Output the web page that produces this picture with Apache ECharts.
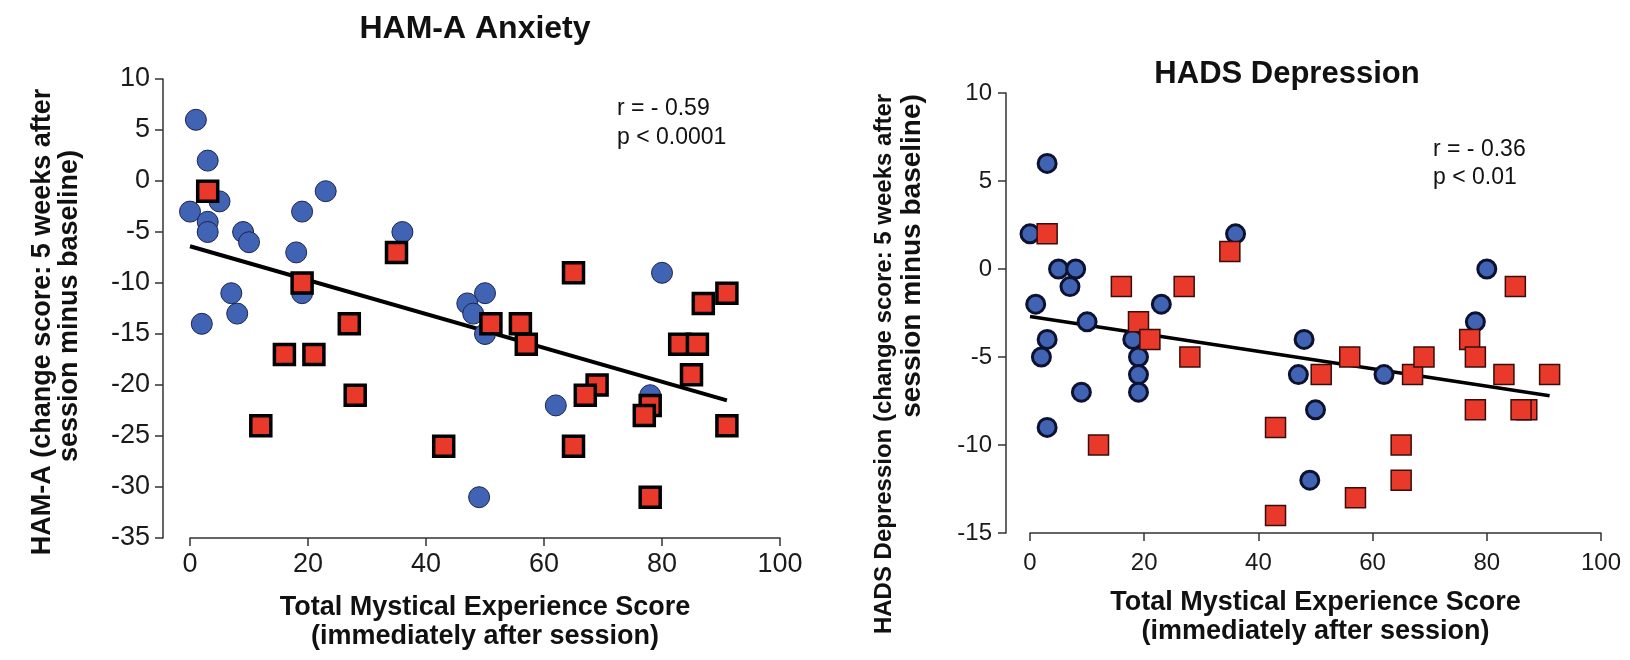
<!DOCTYPE html>
<html>
<head>
<meta charset="utf-8">
<script src="https://cdn.jsdelivr.net/npm/echarts@6/dist/echarts.min.js"></script>
<style>
html,body{margin:0;padding:0;background:#fff;}
#chart{width:1630px;height:660px;}
</style>
</head>
<body>
<div id="chart"></div>
<script>
// ---------- data ----------
const xTicksMin = 0, xTicksMax = 100, xTickStep = 20;

// HAM-A panel
const hamaCircleX = [1, 3, 5, 0, 3, 3, 9, 10, 23, 19, 18, 19, 7, 8, 2, 36, 80, 50, 47, 48, 50, 62, 78, 49];
const hamaCircleY = [6, 2, -2, -3, -4, -5, -5, -6, -1, -3, -7, -11, -11, -13, -14, -5, -9, -11, -12, -13, -15, -22, -21, -31];
const hamaSquareX = [3, 19, 35, 27, 16, 21, 28, 12, 43, 65, 91, 87, 51, 56, 57, 69, 67, 78, 77, 83, 86, 85, 91, 65, 78];
const hamaSquareY = [-1, -10, -7, -14, -17, -17, -21, -24, -26, -9, -11, -12, -14, -14, -16, -20, -21, -22, -23, -16, -16, -19, -24, -26, -31];
const hamaFitX = [0, 91];
const hamaFitY = [-6.4, -21.5];
const hamaYMin = -35, hamaYMax = 10, hamaYStep = 5;

// HADS panel
const hadsCircleX = [3, 0, 5, 8, 7, 1, 10, 23, 36, 3, 2, 9, 3, 18, 19, 19, 19, 48, 47, 50, 49, 62, 80, 78];
const hadsCircleY = [6, 2, 0, 0, -1, -2, -3, -2, 2, -4, -5, -7, -9, -4, -5, -6, -7, -4, -6, -8, -12, -6, 0, -3];
const hadsSquareX = [3, 16, 27, 19, 21, 35, 12, 28, 51, 56, 67, 69, 43, 65, 65, 57, 43, 77, 78, 83, 91, 78, 87, 86, 85];
const hadsSquareY = [2, -1, -1, -3, -4, 1, -10, -5, -6, -5, -6, -5, -9, -10, -12, -13, -14, -4, -5, -6, -6, -8, -8, -8, -1];
const hadsFitX = [0, 91];
const hadsFitY = [-2.7, -7.2];
const hadsYMin = -15, hadsYMax = 10, hadsYStep = 5;

// texts
const titles = ['HAM-A Anxiety', 'HADS Depression'];
const xName = 'Total Mystical Experience Score\n(immediately after session)';
const hamaYNameLines = ['HAM-A (change score: 5 weeks after', 'session minus baseline)'];
const hadsYNameLines = ['HADS Depression (change score: 5 weeks after', 'session minus baseline)'];
const hamaStats = 'r = - 0.59\np < 0.0001';
const hadsStats = 'r = - 0.36\np < 0.01';

// ---------- helpers ----------
const zip = (xs, ys) => xs.map((x, i) => [x, ys[i]]);
const FONT = "'Liberation Sans', Arial, Helvetica, sans-serif";
const BLUE = '#4163b3', BLUE_EDGE = '#1b2350', RED = '#e8392b';

const chart = echarts.init(document.getElementById('chart'), null, {renderer: 'canvas'});

function xAxisCfg(gridIndex, labelSize, labelMargin, nameGap) {
  return {
    gridIndex, type: 'value', min: xTicksMin, max: xTicksMax, interval: xTickStep,
    position: 'bottom',
    axisLine: {show: true, onZero: false, lineStyle: {color: '#333', width: 1.5}},
    axisTick: {show: true, inside: false, length: 8, lineStyle: {color: '#333', width: 1.5}},
    axisLabel: {margin: labelMargin, fontSize: labelSize, color: '#1a1a1a', fontFamily: FONT},
    splitLine: {show: false},
    name: xName, nameLocation: 'middle', nameGap: nameGap,
    nameTextStyle: {fontSize: 27, fontWeight: 'bold', color: '#111', fontFamily: FONT, lineHeight: 29}
  };
}
function yAxisCfg(gridIndex, min, max, step, offset, labelSize, labelMargin) {
  return {
    gridIndex, type: 'value', min, max, interval: step, position: 'left', offset,
    axisLine: {show: true, onZero: false, lineStyle: {color: '#333', width: 1.5}},
    axisTick: {show: true, inside: false, length: 8, lineStyle: {color: '#333', width: 1.5}},
    axisLabel: {margin: labelMargin, fontSize: labelSize, color: '#1a1a1a', fontFamily: FONT},
    splitLine: {show: false}
  };
}
function vText(text, cx, cy, size) {
  return {type: 'text', x: cx, y: cy, rotation: Math.PI / 2,
    style: {text, font: 'bold ' + size + 'px ' + FONT, fill: '#111', align: 'center', verticalAlign: 'middle'}};
}

const option = {
  backgroundColor: '#fff',
  animation: false,
  title: [
    {text: titles[0], left: 470, top: 8, textAlign: 'center',
     textStyle: {fontSize: 32, fontWeight: 'bold', color: '#111', fontFamily: FONT}},
    {text: titles[1], left: 1282, top: 54, textAlign: 'center',
     textStyle: {fontSize: 31, fontWeight: 'bold', color: '#111', fontFamily: FONT}}
  ],
  grid: [
    {left: 190, top: 79, width: 590, height: 459},
    {left: 1030, top: 93, width: 571, height: 440}
  ],
  xAxis: [xAxisCfg(0, 27, 13, 55), xAxisCfg(1, 24, 18, 55)],
  yAxis: [
    yAxisCfg(0, hamaYMin, hamaYMax, hamaYStep, 27, 27, 13),
    yAxisCfg(1, hadsYMin, hadsYMax, hadsYStep, 24, 24, 14)
  ],
  graphic: [
    {type: 'text', left: 617, top: 94, style: {text: hamaStats, font: '23px ' + FONT, fill: '#111', lineHeight: 29}},
    {type: 'text', left: 1433, top: 136, style: {text: hadsStats, font: '23px ' + FONT, fill: '#111', lineHeight: 28}},
    vText(hamaYNameLines[0], 43, 322, 27),
    vText(hamaYNameLines[1], 70, 306, 27),
    vText(hadsYNameLines[0], 884, 364, 24),
    vText(hadsYNameLines[1], 912, 256, 28)
  ],
  series: [
    {type: 'line', xAxisIndex: 0, yAxisIndex: 0, data: zip(hamaFitX, hamaFitY), symbol: 'none',
     lineStyle: {color: '#000', width: 4}, z: 2},
    {type: 'scatter', xAxisIndex: 0, yAxisIndex: 0, data: zip(hamaCircleX, hamaCircleY), symbol: 'circle', symbolSize: 21,
     itemStyle: {color: BLUE, borderColor: BLUE_EDGE, borderWidth: 1, opacity: 1}, z: 3},
    {type: 'scatter', xAxisIndex: 0, yAxisIndex: 0, data: zip(hamaSquareX, hamaSquareY), symbol: 'rect', symbolSize: 20,
     itemStyle: {color: RED, borderColor: '#000', borderWidth: 3.5, opacity: 1}, z: 4},

    {type: 'line', xAxisIndex: 1, yAxisIndex: 1, data: zip(hadsFitX, hadsFitY), symbol: 'none',
     lineStyle: {color: '#000', width: 3.5}, z: 2},
    {type: 'scatter', xAxisIndex: 1, yAxisIndex: 1, data: zip(hadsCircleX, hadsCircleY), symbol: 'circle', symbolSize: 18,
     itemStyle: {color: BLUE, borderColor: '#0d1230', borderWidth: 3, opacity: 1}, z: 3},
    {type: 'scatter', xAxisIndex: 1, yAxisIndex: 1, data: zip(hadsSquareX, hadsSquareY), symbol: 'rect', symbolSize: 20,
     itemStyle: {color: RED, borderColor: '#3a0d08', borderWidth: 1.5, opacity: 1}, z: 4}
  ]
};
chart.setOption(option);
</script>
</body>
</html>
